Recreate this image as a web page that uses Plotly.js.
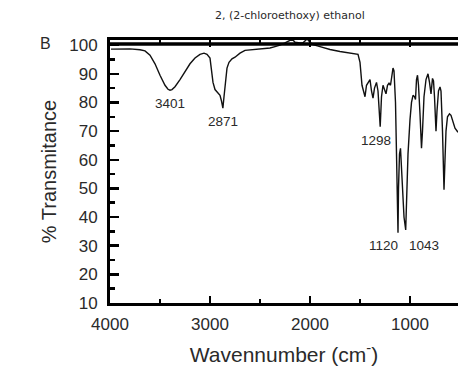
<!DOCTYPE html>
<html>
<head>
<meta charset="utf-8">
<script src="https://cdn.plot.ly/plotly-3.0.1.min.js"></script>
<style>html,body{margin:0;padding:0;background:#fff;}#chart{width:458px;height:366px;}</style>
</head>
<body>
<div id="chart"></div>
<script>
// IR spectrum of 2,(2-chloroethoxy) ethanol
const wavenumber = [
  3990, 3900, 3800, 3700, 3650, 3600, 3550, 3500, 3450, 3420, 3400, 3380, 3350, 3300, 3250, 3200, 3150, 3100, 3060, 3030,
  3000, 2985, 2970, 2950, 2920, 2900, 2885, 2871, 2860, 2845, 2830, 2810, 2780, 2750, 2700, 2650, 2600, 2500, 2400, 2350,
  2300, 2250, 2200, 2170, 2150, 2100, 2070, 2040, 2030, 2000, 1970, 1900, 1800, 1700, 1600, 1550, 1520, 1500, 1490, 1480,
  1465, 1450, 1435, 1420, 1400, 1385, 1370, 1355, 1335, 1320, 1298, 1285, 1270, 1255, 1240, 1225, 1210, 1195, 1180, 1170,
  1160, 1145, 1135, 1125, 1120, 1115, 1105, 1095, 1085, 1075, 1060, 1043, 1035, 1020, 1000, 985, 970, 955, 945, 935,
  925, 915, 900, 885, 875, 860, 840, 820, 805, 790, 775, 765, 755, 740, 730, 715, 700, 690, 675, 660,
  650, 640, 625, 605, 590, 570, 550, 520
];
const transmittance = [
  98.6, 98.6, 98.7, 98.4, 98.0, 96.5, 93.5, 89.5, 86.0, 84.6, 84.3, 84.5, 85.5, 88.0, 91.0, 93.5, 95.5, 96.8, 97.2, 96.8,
  95.5, 92.0, 87.0, 84.5, 83.5, 82.5, 80.5, 78.0, 82.0, 88.0, 92.0, 94.0, 95.2, 95.8, 97.2, 98.2, 98.4, 98.7, 99.0, 99.5,
  100.0, 100.8, 101.7, 101.8, 101.0, 100.8, 100.8, 101.8, 102.2, 101.0, 100.2, 99.5, 98.5, 97.8, 97.3, 97.2, 96.8, 94.0, 90.0, 86.0,
  84.0, 82.0, 86.0, 87.0, 88.0, 84.0, 81.5, 85.0, 87.0, 84.0, 71.5, 82.0, 86.0, 84.5, 83.0, 86.0, 86.7, 86.0, 90.0, 92.0,
  91.0, 80.0, 62.0, 48.0, 34.5, 50.0, 62.0, 64.0, 58.0, 48.0, 40.0, 35.5, 48.0, 62.0, 74.0, 80.0, 82.5, 82.0, 81.0, 88.0,
  89.5, 86.0, 76.0, 64.0, 70.0, 82.0, 88.0, 90.0, 87.0, 83.0, 88.4, 87.5, 82.0, 70.0, 77.0, 84.0, 85.4, 84.0, 70.0, 49.5,
  60.0, 70.0, 75.0, 76.0, 75.5, 73.0, 71.0, 69.6
];
const peakLabels = ["3401", "2871", "1298", "1120", "1043"];
const peakX = [3401, 2871, 1298, 1120, 1043];
const peakY = [84.3, 78.0, 71.5, 34.5, 35.5];
const xTicks = [4000, 3000, 2000, 1000];
const yTicks = [10, 20, 30, 40, 50, 60, 70, 80, 90, 100];

const txt = '#2a2a2a';
const shiftX = {"3401": 0, "2871": 0, "1298": -4, "1120": -15, "1043": 18};
const shiftY = {"3401": -4, "2871": -4, "1298": -4, "1120": -3, "1043": -6};
const annotations = peakLabels.map((t, i) => ({
  x: peakX[i], y: peakY[i], xref: 'x', yref: 'y', text: t, showarrow: false,
  yanchor: 'top', yshift: shiftY[t], xshift: shiftX[t],
  font: {family: 'Liberation Sans, Arial, sans-serif', size: 13.5, color: txt}
}));
annotations.push({
  xref: 'paper', yref: 'paper', x: -0.185, y: 0.985, text: 'B', showarrow: false,
  xanchor: 'center', yanchor: 'middle',
  font: {family: 'Liberation Sans, Arial, sans-serif', size: 16, color: txt}
});

const trace = {
  x: wavenumber, y: transmittance, type: 'scatter', mode: 'lines',
  line: {color: '#111', width: 1.4}, hoverinfo: 'skip'
};

const layout = {
  width: 458, height: 366,
  margin: {l: 110, r: 0, t: 40, b: 63},
  paper_bgcolor: '#fff', plot_bgcolor: '#fff',
  showlegend: false,
  title: {
    text: '2, (2-chloroethoxy) ethanol',
    xref: 'container', yref: 'container', x: 0.633, y: 1 - 15/366,
    xanchor: 'center', yanchor: 'middle',
    font: {family: 'DejaVu Sans, sans-serif', size: 11, color: txt}
  },
  xaxis: {
    range: [4000, 520], tickvals: xTicks, ticktext: xTicks.map(String),
    showgrid: false, zeroline: false,
    showline: true, linecolor: '#000', linewidth: 3, mirror: 'all',
    ticks: 'inside', ticklen: 7, tickwidth: 2.5, tickcolor: '#000',
    minor: {tickvals: [3500, 2500, 1500], ticks: 'inside', ticklen: 4, tickwidth: 2.5, tickcolor: '#000', showgrid: false},
    tickfont: {family: 'Liberation Sans, Arial, sans-serif', size: 17, color: txt},
    ticklabelstandoff: 4,
    title: {text: 'Wavennumber (cm<sup>-</sup>)', standoff: 14,
      font: {family: 'Liberation Sans, Arial, sans-serif', size: 21, color: txt}}
  },
  yaxis: {
    range: [10, 101.8], tickvals: yTicks, ticktext: yTicks.map(String),
    showgrid: false, zeroline: false,
    showline: true, linecolor: '#000', linewidth: 3, mirror: false,
    ticks: 'inside', ticklen: 9, tickwidth: 2.5, tickcolor: '#000',
    minor: {tickvals: [15, 25, 35, 45, 55, 65, 75, 85, 95], ticks: 'inside', ticklen: 5, tickwidth: 2.5, tickcolor: '#000', showgrid: false},
    tickfont: {family: 'Liberation Sans, Arial, sans-serif', size: 17, color: txt},
    ticklabelstandoff: 6,
    title: {text: '% Transmitance', standoff: 8,
      font: {family: 'Liberation Sans, Arial, sans-serif', size: 20, color: txt}}
  },
  shapes: [{
    type: 'line', xref: 'paper', yref: 'paper', x0: 0, x1: 1, y0: 0.985, y1: 0.985,
    line: {color: '#000', width: 3.5}, layer: 'above'
  }],
  annotations: annotations
};

Plotly.newPlot('chart', [trace], layout, {displayModeBar: false, staticPlot: true});
</script>
</body>
</html>
